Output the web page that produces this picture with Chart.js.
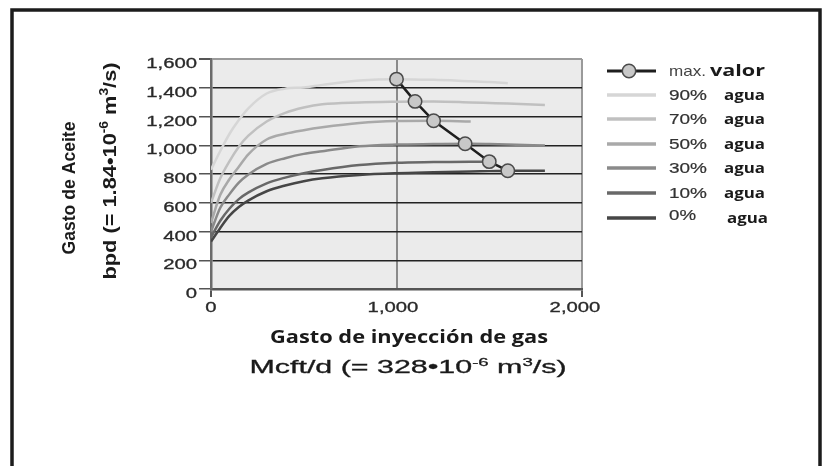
<!DOCTYPE html>
<html>
<head>
<meta charset="utf-8">
<script src="https://cdn.jsdelivr.net/npm/chart.js@4.4.1/dist/chart.umd.min.js"></script>
<style>
  html, body { margin: 0; padding: 0; background: #fff; }
  #wrap { position: relative; width: 830px; height: 466px; }
</style>
</head>
<body>
<div id="wrap"><canvas id="gasLiftChart"></canvas></div>
<script>
// gas injection rate (Mcf/d) shared by all curves
const gasRate = [0, 50, 100, 150, 200, 300, 400, 500, 600, 800, 1000, 1200, 1400, 1500, 1600, 1800];
// oil rate (bpd) for each water cut, null where the curve stops
const water90 = [830, 960, 1080, 1175, 1255, 1360, 1394, 1402, 1420, 1450, 1460, 1455, 1445, 1440, 1432, null];
const water70 = [600, 770, 890, 990, 1065, 1165, 1225, 1262, 1285, 1298, 1303, 1305, 1298, 1294, 1290, 1280];
const water50 = [460, 655, 765, 850, 935, 1040, 1080, 1105, 1125, 1155, 1168, 1170, 1165, null, null, null];
const water30 = [400, 565, 660, 740, 795, 870, 910, 940, 958, 993, 1005, 1008, 1010, 1008, 1005, 998];
const water10 = [360, 475, 560, 625, 670, 735, 775, 805, 828, 862, 878, 883, 886, 886, null, null];
const water0  = [330, 425, 510, 570, 615, 680, 720, 750, 770, 793, 805, 812, 818, 820, 823, 823];
// optimum points
const maxGas = [1000, 1100, 1200, 1370, 1500, 1600];
const maxOil = [1460, 1305, 1170, 1010, 886, 823];
const xTicks = [0, 1000, 2000];
const yTicks = [0, 200, 400, 600, 800, 1000, 1200, 1400, 1600];
const seriesLabels = ['90%', '70%', '50%', '30%', '10%', '0%'];
const seriesColors = ['#d6d6d6', '#c0c0c0', '#a9a9a9', '#8a8a8a', '#686868', '#464646'];

const curves = [water90, water70, water50, water30, water10, water0];

function toPoints(xs, ys) {
    return xs.map((x, i) => ({ x: x, y: ys[i] })).filter(p => p.y !== null);
}

// draws text made of pieces (some superscript), stretched to a given width
function drawRich(ctx, segs, o) {
    ctx.save();
    const fontFor = (s) => (s.weight || o.weight || 'normal') + ' ' +
        (s.sup ? Math.round(o.size * 0.62) : (s.size || o.size)) + 'px ' + (s.family || o.family);
    let total = 0;
    segs.forEach(s => { ctx.font = fontFor(s); s.w = ctx.measureText(s.t).width; total += s.w; });
    const sx = o.width ? o.width / total : (o.sx || 1);
    ctx.translate(o.x, o.y);
    if (o.rotate) ctx.rotate(o.rotate);
    ctx.scale(sx, 1);
    let cx = o.align === 'center' ? -total / 2 : (o.align === 'right' ? -total : 0);
    ctx.textBaseline = 'alphabetic';
    segs.forEach(s => {
        ctx.font = fontFor(s);
        ctx.fillStyle = s.color || o.color;
        const dy = s.sup ? -o.size * 0.4 : 0;
        ctx.fillText(s.t, cx, dy);
        if (o.thick) {
            ctx.strokeStyle = s.color || o.color;
            ctx.lineWidth = o.thick;
            ctx.strokeText(s.t, cx, dy);
        }
        cx += s.w;
    });
    ctx.restore();
}

const SANS = '"Liberation Sans", Arial, sans-serif';
const OPEN = '"Open Sans", sans-serif';

const decor = {
    id: 'decor',
    beforeDraw(chart) {
        const ctx = chart.ctx, a = chart.chartArea;
        ctx.save();
        ctx.fillStyle = '#ffffff';
        ctx.fillRect(0, 0, chart.width, chart.height);
        ctx.strokeStyle = '#1c1c1c';
        ctx.lineWidth = 3.5;
        ctx.strokeRect(12, 10, 808, 480);
        ctx.fillStyle = '#ebebeb';
        ctx.fillRect(a.left, a.top, a.right - a.left, a.bottom - a.top);
        ctx.restore();
    },
    afterDraw(chart) {
        const ctx = chart.ctx;
        const xs = chart.scales.x, ys = chart.scales.y;
        // tick labels
        yTicks.forEach(v => {
            drawRich(ctx, [{ t: v.toLocaleString('en-US') }], {
                x: 197, y: ys.getPixelForValue(v) + 9, size: 14, family: SANS,
                color: '#2a2a2a', sx: 1.45, align: 'right', thick: 0.3
            });
        });
        xTicks.forEach(v => {
            drawRich(ctx, [{ t: v.toLocaleString('en-US') }], {
                x: xs.getPixelForValue(v) - v * 0.0035, y: 312, size: 14, family: SANS,
                color: '#2a2a2a', sx: 1.45, align: 'center', thick: 0.3
            });
        });
        // axis titles
        drawRich(ctx, [{ t: 'Gasto de inyección de gas' }], {
            x: 409, y: 343, size: 17, weight: 'bold', family: OPEN,
            color: '#1a1a1a', width: 278, align: 'center'
        });
        drawRich(ctx, [{ t: 'Mcft/d (= 328•10' }, { t: '-6', sup: true }, { t: ' m' }, { t: '3', sup: true }, { t: '/s)' }], {
            x: 408, y: 373, size: 18, family: SANS,
            color: '#1a1a1a', width: 317, align: 'center', thick: 0.3
        });
        drawRich(ctx, [{ t: 'Gasto de Aceite' }], {
            x: 75, y: 188, size: 19, weight: 'bold', family: SANS,
            color: '#1a1a1a', width: 133, align: 'center', rotate: -Math.PI / 2
        });
        drawRich(ctx, [{ t: 'bpd (= 1.84•10' }, { t: '-6', sup: true }, { t: ' m' }, { t: '3', sup: true }, { t: '/s)' }], {
            x: 116, y: 171, size: 19, weight: 'bold', family: SANS,
            color: '#1a1a1a', width: 217, align: 'center', rotate: -Math.PI / 2
        });

        // legend
        const rows = [71, 95, 119, 144, 168, 193, 218];
        const ds = chart.data.datasets;
        ctx.save();
        ctx.lineCap = 'butt';
        ds.forEach((d, i) => {
            const y = rows[i];
            ctx.strokeStyle = d.borderColor;
            ctx.lineWidth = i === 0 ? 3 : 3.5;
            ctx.beginPath();
            ctx.moveTo(607, y);
            ctx.lineTo(656, y);
            ctx.stroke();
            if (i === 0) {
                ctx.beginPath();
                ctx.arc(629, y, 6.7, 0, Math.PI * 2);
                ctx.fillStyle = d.pointBackgroundColor;
                ctx.fill();
                ctx.lineWidth = 1.5;
                ctx.strokeStyle = d.pointBorderColor;
                ctx.stroke();
            }
        });
        ctx.restore();
        drawRich(ctx, [{ t: 'max.' }], {
            x: 669, y: rows[0] + 5, size: 15, family: SANS,
            color: '#444', width: 37
        });
        drawRich(ctx, [{ t: 'valor' }], {
            x: 710, y: rows[0] + 5, size: 15.5, weight: 'bold', family: OPEN,
            color: '#1a1a1a', width: 55
        });
        ds.slice(1).forEach((d, i) => {
            const y = rows[i + 1];
            const last = i === ds.length - 2;
            drawRich(ctx, [{ t: d.label }], {
                x: 669, y: y + 5 - (last ? 3 : 0), size: 14, family: SANS,
                color: '#333', width: last ? 27 : 38, thick: 0.2
            });
            drawRich(ctx, [{ t: 'agua' }], {
                x: last ? 727 : 724, y: y + 5, size: 15, weight: 'bold', family: OPEN,
                color: '#1a1a1a', width: 41
            });
        });
    }
};

const datasets = [{
    label: 'max. valor',
    data: toPoints(maxGas, maxOil),
    borderColor: '#1e1e1e',
    borderWidth: 2.5,
    pointRadius: 6.7,
    pointBackgroundColor: '#c8c8c8',
    pointBorderColor: '#4a4a4a',
    pointBorderWidth: 1.5,
    tension: 0
}];
curves.forEach((c, i) => {
    datasets.push({
        label: seriesLabels[i],
        data: toPoints(gasRate, c),
        borderColor: seriesColors[i],
        borderWidth: 2.5,
        pointRadius: 0,
        cubicInterpolationMode: 'monotone'
    });
});

const ctx = document.getElementById('gasLiftChart');
new Chart(ctx, {
    type: 'line',
    data: { datasets: datasets },
    options: {
        responsive: true,
        maintainAspectRatio: false,
        animation: false,
        layout: { padding: { top: 59, right: 248, left: 0, bottom: 0 } },
        plugins: { legend: { display: false }, tooltip: { enabled: false } },
        scales: {
            x: {
                type: 'linear',
                min: 0,
                max: 2000,
                afterBuildTicks: (s) => { s.ticks = xTicks.map(v => ({ value: v })); },
                afterFit: (s) => { s.height = 177; },
                ticks: { display: false },
                grid: {
                    color: (c) => c.tick.value === 0 ? '#6b6b6b' : (c.tick.value === 1000 ? '#8a8a8a' : '#9a9a9a'),
                    tickColor: (c) => c.tick.value === 1000 ? 'rgba(0,0,0,0)' : '#555',
                    lineWidth: 2,
                    tickLength: 8
                },
                border: { color: '#555', width: 2.5 }
            },
            y: {
                min: 0,
                max: 1600,
                afterBuildTicks: (s) => { s.ticks = yTicks.map(v => ({ value: v })); },
                afterFit: (s) => { s.width = 211; },
                ticks: { display: false },
                grid: {
                    color: (c) => c.tick.value === 1600 ? '#9a9a9a' : (c.tick.value === 0 ? '#555' : '#222'),
                    tickColor: '#555',
                    lineWidth: (c) => c.tick.value === 1600 ? 2 : 1.5,
                    tickLength: 12
                },
                border: { color: '#6b6b6b', width: 2.5 }
            }
        }
    },
    plugins: [decor]
});
</script>
</body>
</html>
